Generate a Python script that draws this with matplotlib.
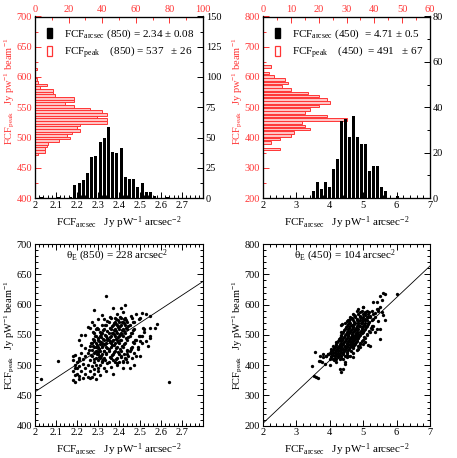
import matplotlib
matplotlib.use("Agg")
import matplotlib.pyplot as plt
import matplotlib.ticker as ticker
from matplotlib.patches import Patch
import numpy as np

plt.rcParams['font.family'] = ['Liberation Serif', 'DejaVu Serif']
plt.rcParams['mathtext.fontset'] = 'custom'
plt.rcParams['mathtext.rm'] = 'Liberation Serif'
plt.rcParams['mathtext.it'] = 'Liberation Serif:italic'
plt.rcParams['mathtext.bf'] = 'Liberation Serif:bold'

RED = '#ff3535'
PINK = '#ffc4c4'

# ---- 850 histograms ----
arcsec850_start, arcsec850_step = 2.03, 0.02
arcsec850_counts = [1, 0, 0, 0, 1, 0, 0, 1, 11, 12, 15, 21, 34, 35, 46, 50, 59, 38,
                    37, 41, 17, 16, 16, 9, 12, 5, 5, 2, 0, 0, 1]
peak850_start, peak850_step = 472.5, 4.4
peak850_counts = [2, 6, 6, 7, 8, 14, 21, 19, 22, 27, 25, 27, 43, 43, 37, 43, 40,
                  33, 23, 18, 23, 23, 12, 11, 11, 3, 7, 2, 1, 0, 0, 0, 1]

# ---- 450 histograms ----
arcsec450_start, arcsec450_step = 3.5, 0.12
arcsec450_counts = [3, 7, 4, 7, 5, 13, 17, 34, 35, 27, 36, 27, 24, 24, 12, 14, 14,
                    5, 3, 0, 0, 1]
peak450_start, peak450_step = 362.0, 10.92
peak450_counts = [6, 0, 3, 6, 10, 11, 17, 15, 14, 30, 23, 15, 17, 20, 24, 23, 20,
                  16, 10, 7, 9, 8, 4, 2, 0, 3]

# fitted beam areas (slope of FCF_peak vs FCF_arcsec)
theta850 = 228
theta450 = 104

# ---- scatter 850 (FCF_arcsec, FCF_peak) ----
scatter850 = [
    # outliers and edge of the cloud
    (2.03, 477), (2.11, 507), (2.34, 614), (2.28, 592), (2.64, 473), (2.43, 600),
    (2.37, 595), (2.39, 584), (2.41, 594), (2.42, 588), (2.48, 585), (2.51, 587),
    (2.53, 585), (2.55, 582), (2.58, 568), (2.57, 561), (2.55, 561), (2.55, 549),
    (2.55, 545), (2.54, 531), (2.49, 526), (2.48, 516), (2.51, 536), (2.40, 505),
    (2.42, 496), (2.41, 514), (2.44, 525), (2.18, 516), (2.18, 509), (2.21, 509),
    (2.19, 500), (2.20, 495), (2.19, 483), (2.21, 478), (2.19, 517), (2.22, 550),
    (2.21, 541), (2.22, 533), (2.24, 550), (2.26, 561), (2.28, 566), (2.32, 566),
    (2.33, 577), (2.37, 486), (2.34, 491), (2.25, 563),
    (2.18, 476), (2.19, 472), (2.20, 486), (2.21, 482), (2.23, 479), (2.24, 486),
    (2.25, 480), (2.26, 479), (2.27, 481), (2.28, 486), (2.29, 478), (2.30, 490),
    (2.31, 484), (2.33, 496), (2.36, 497), (2.39, 501),
    # lower left part
    (2.18, 490), (2.19, 495), (2.20, 505), (2.21, 498), (2.21, 512), (2.22, 490),
    (2.22, 520), (2.23, 502), (2.23, 510), (2.24, 495), (2.24, 515), (2.24, 528),
    (2.25, 500), (2.25, 520), (2.26, 490), (2.26, 508), (2.26, 532), (2.27, 498),
    (2.27, 515), (2.27, 525), (2.28, 493), (2.28, 505), (2.28, 520), (2.28, 540),
    (2.29, 500), (2.29, 512), (2.29, 530), (2.30, 495), (2.30, 508), (2.30, 522),
    (2.30, 545), (2.31, 500), (2.31, 515), (2.31, 535), (2.31, 555),
    # core
    (2.32, 505), (2.35, 505), (2.38, 505), (2.42, 505),
    (2.31, 512), (2.33, 512), (2.36, 512), (2.39, 512), (2.43, 512),
    (2.30, 518), (2.32, 518), (2.34, 518), (2.37, 518), (2.40, 518), (2.44, 518),
    (2.29, 524), (2.31, 524), (2.33, 524), (2.35, 524), (2.38, 524), (2.41, 524),
    (2.45, 524),
    (2.28, 530), (2.30, 530), (2.32, 530), (2.34, 530), (2.36, 530), (2.39, 530),
    (2.42, 530), (2.46, 530),
    (2.27, 536), (2.29, 536), (2.32, 536), (2.34, 536), (2.36, 536), (2.38, 536),
    (2.40, 536), (2.43, 536), (2.47, 536),
    (2.28, 542), (2.30, 542), (2.33, 542), (2.35, 542), (2.37, 542), (2.39, 542),
    (2.41, 542), (2.44, 542), (2.48, 542),
    (2.29, 548), (2.31, 548), (2.34, 548), (2.36, 548), (2.38, 548), (2.40, 548),
    (2.42, 548), (2.45, 548), (2.50, 548),
    (2.28, 554), (2.32, 554), (2.35, 554), (2.37, 554), (2.39, 554), (2.41, 554),
    (2.43, 554), (2.46, 554),
    (2.30, 560), (2.33, 560), (2.36, 560), (2.38, 560), (2.40, 560), (2.42, 560),
    (2.44, 560), (2.47, 560), (2.52, 560),
    (2.34, 566), (2.37, 566), (2.39, 566), (2.41, 566), (2.43, 566), (2.45, 566),
    (2.35, 572), (2.38, 572), (2.40, 572), (2.42, 572), (2.44, 572), (2.47, 572),
    (2.36, 578), (2.38, 578), (2.41, 578), (2.43, 578), (2.46, 578), (2.50, 578),
    (2.32, 507), (2.345, 503), (2.37, 508), (2.39, 504), (2.42, 507), (2.335, 509),
    (2.305, 513), (2.325, 510), (2.355, 514), (2.385, 511), (2.41, 515), (2.435, 510),
    (2.28, 511),
    (2.295, 519), (2.315, 516), (2.34, 520), (2.365, 517), (2.395, 521), (2.425, 518),
    (2.445, 516), (2.265, 517),
    (2.285, 522), (2.305, 526), (2.33, 523), (2.35, 527), (2.375, 522), (2.405, 526),
    (2.44, 523), (2.455, 527), (2.255, 525),
    (2.275, 531), (2.30, 528), (2.32, 532), (2.345, 529), (2.365, 533), (2.385, 528),
    (2.415, 532), (2.455, 529), (2.33, 535),
    (2.265, 537), (2.295, 534), (2.315, 538), (2.335, 535), (2.355, 539), (2.375, 534),
    (2.395, 538), (2.425, 535), (2.465, 538), (2.345, 541),
    (2.275, 543), (2.305, 540), (2.325, 544), (2.345, 545), (2.365, 540), (2.385, 544),
    (2.405, 541), (2.435, 545), (2.475, 541),
    (2.285, 549), (2.315, 546), (2.335, 550), (2.355, 547), (2.375, 551), (2.395, 546),
    (2.415, 550), (2.445, 547), (2.495, 549),
    (2.275, 555), (2.315, 552), (2.345, 556), (2.365, 553), (2.385, 557), (2.405, 552),
    (2.425, 556), (2.455, 553),
    (2.295, 561), (2.325, 558), (2.355, 562), (2.375, 559), (2.395, 563), (2.415, 558),
    (2.435, 562), (2.465, 559), (2.515, 561),
    (2.335, 567), (2.365, 564), (2.385, 568), (2.405, 565), (2.425, 569), (2.445, 564),
    (2.345, 573), (2.375, 570), (2.395, 574), (2.415, 571), (2.435, 575), (2.465, 571),
    (2.355, 579), (2.385, 576), (2.405, 580), (2.425, 577), (2.455, 581), (2.495, 577),
    # right side of the cloud
    (2.44, 505), (2.46, 512), (2.47, 520), (2.49, 530), (2.50, 540), (2.51, 548),
    (2.52, 555), (2.53, 540), (2.50, 515), (2.47, 500), (2.45, 495),
    (2.27, 572), (2.30, 576), (2.29, 560), (2.32, 583),
]

# ---- scatter 450 ----
scatter450 = [
    # outliers and edge of the cloud
    (3.48, 397), (3.53, 364), (3.60, 360), (3.65, 358), (3.56, 443), (3.71, 432),
    (3.76, 410), (3.68, 415), (3.81, 437), (3.89, 432), (3.94, 437), (3.86, 405),
    (4.00, 402), (4.03, 454), (4.10, 465), (4.20, 476), (4.30, 487), (4.35, 509),
    (4.37, 536), (4.25, 437), (4.20, 410), (4.30, 388), (4.35, 377), (4.40, 389),
    (4.45, 411), (3.70, 413), (3.80, 428), (4.05, 439), (4.85, 585), (5.00, 591),
    (5.05, 575), (5.40, 585), (5.50, 591), (5.55, 575), (4.50, 547), (4.75, 564),
    (5.45, 547), (5.25, 531), (5.40, 520), (5.35, 509), (5.50, 487), (5.05, 476),
    (5.15, 467), (5.20, 465), (4.85, 454), (4.90, 470), (4.70, 427), (4.55, 432),
    (4.50, 427), (4.45, 405), (5.00, 592), (5.50, 630), (5.58, 639), (5.65, 636),
    (6.00, 636), (5.30, 608), (5.40, 608), (5.55, 614), (5.45, 586), (5.60, 565),
    (5.65, 548), (5.50, 521), (4.60, 554), (4.35, 534),
    # core
    (4.00, 420), (4.10, 420), (4.20, 420), (4.30, 420), (4.40, 420),
    (3.90, 430), (4.05, 430), (4.15, 430), (4.25, 430), (4.35, 430), (4.45, 430),
    (4.60, 430),
    (4.00, 440), (4.10, 440), (4.20, 440), (4.30, 440), (4.40, 440), (4.50, 440),
    (4.70, 440),
    (4.10, 450), (4.20, 450), (4.30, 450), (4.35, 450), (4.45, 450), (4.55, 450),
    (4.80, 450),
    (4.15, 460), (4.25, 460), (4.35, 460), (4.45, 460), (4.50, 460), (4.60, 460),
    (4.70, 460), (4.90, 460),
    (4.20, 470), (4.30, 470), (4.40, 470), (4.50, 470), (4.60, 470), (4.65, 470),
    (4.75, 470), (5.00, 470),
    (4.25, 480), (4.35, 480), (4.45, 480), (4.55, 480), (4.65, 480), (4.70, 480),
    (4.80, 480), (4.95, 480),
    (4.30, 490), (4.40, 490), (4.50, 490), (4.60, 490), (4.70, 490), (4.75, 490),
    (4.85, 490), (5.05, 490),
    (4.35, 500), (4.45, 500), (4.55, 500), (4.65, 500), (4.75, 500), (4.80, 500),
    (4.90, 500), (5.10, 500),
    (4.40, 510), (4.50, 510), (4.60, 510), (4.70, 510), (4.80, 510), (4.90, 510),
    (5.00, 510), (5.20, 510),
    (4.45, 520), (4.55, 520), (4.65, 520), (4.75, 520), (4.85, 520), (4.95, 520),
    (5.05, 520), (5.25, 520),
    (4.50, 530), (4.60, 530), (4.70, 530), (4.80, 530), (4.90, 530), (5.00, 530),
    (5.10, 530), (5.30, 530),
    (4.45, 540), (4.60, 540), (4.75, 540), (4.85, 540), (4.95, 540), (5.05, 540),
    (5.15, 540),
    (4.55, 550), (4.70, 550), (4.80, 550), (4.90, 550), (5.00, 550), (5.10, 550),
    (5.25, 550),
    (4.60, 560), (4.75, 560), (4.90, 560), (5.00, 560), (5.10, 560), (5.20, 560),
    (5.35, 560),
    (4.70, 570), (4.85, 570), (5.00, 570), (5.15, 570), (5.30, 570),
    (4.80, 580), (4.95, 580), (5.10, 580), (5.25, 580), (5.45, 580),
    (4.05, 426), (4.15, 423), (4.25, 427), (4.35, 424), (4.12, 418),
    (3.95, 436), (4.10, 433), (4.20, 437), (4.30, 434), (4.40, 438), (4.52, 435),
    (4.05, 446), (4.15, 443), (4.25, 447), (4.33, 444), (4.42, 448), (4.50, 443),
    (4.62, 446),
    (4.12, 456), (4.22, 453), (4.32, 457), (4.40, 454), (4.48, 458), (4.58, 453),
    (4.68, 456),
    (4.18, 466), (4.28, 463), (4.38, 467), (4.47, 464), (4.55, 468), (4.63, 463),
    (4.72, 467), (4.85, 464),
    (4.22, 476), (4.33, 473), (4.42, 477), (4.52, 474), (4.60, 478), (4.68, 473),
    (4.78, 477), (4.90, 474),
    (4.28, 486), (4.38, 483), (4.48, 487), (4.57, 484), (4.66, 488), (4.73, 483),
    (4.82, 487), (4.98, 484),
    (4.33, 496), (4.43, 493), (4.53, 497), (4.62, 494), (4.71, 498), (4.78, 493),
    (4.88, 497), (5.02, 494),
    (4.38, 506), (4.48, 503), (4.58, 507), (4.67, 504), (4.77, 508), (4.85, 503),
    (4.95, 507), (5.12, 504),
    (4.43, 516), (4.53, 513), (4.62, 517), (4.72, 514), (4.82, 518), (4.92, 513),
    (5.02, 517), (5.18, 514),
    (4.48, 526), (4.58, 523), (4.68, 527), (4.78, 524), (4.88, 528), (4.97, 523),
    (5.08, 527), (5.22, 524),
    (4.53, 536), (4.65, 533), (4.73, 537), (4.83, 534), (4.93, 538), (5.03, 533),
    (5.13, 537),
    (4.58, 546), (4.72, 543), (4.85, 547), (4.95, 544), (5.05, 548), (5.18, 543),
    (4.65, 556), (4.82, 553), (4.95, 557), (5.05, 554), (5.15, 558), (5.30, 553),
    (4.72, 566), (4.90, 563), (5.05, 567), (5.20, 564),
    (4.90, 576), (5.05, 573), (5.18, 577), (5.35, 574),
]


def gFormat(hide_above=None):
    def f(v, pos):
        if hide_above is not None and v > hide_above:
            return ''
        return '%g' % round(v, 6)
    return ticker.FuncFormatter(f)


def setTicks(axis, major, minor):
    axis.set_major_locator(ticker.MultipleLocator(major))
    axis.set_minor_locator(ticker.MultipleLocator(minor))


def commonTickSettings(ax):
    ax.tick_params(which='both', direction='in', labelsize=7.5, width=0.7, pad=2)
    ax.tick_params(which='major', length=4)
    ax.tick_params(which='minor', length=2)
    for s in ax.spines.values():
        s.set_linewidth(0.8)


def histPanel(fig, rect, xlim, ylim, toplim, rightlim, ticks, arcsec, peak, labels, hide_x):
    a_start, a_step, a_counts, a_width = arcsec
    p_start, p_step, p_counts, p_height = peak
    xt, yt, tt, rt = ticks

    ax = fig.add_axes(rect)
    ax.set_xlim(xlim)
    ax.set_ylim(ylim)
    setTicks(ax.xaxis, *xt)
    setTicks(ax.yaxis, *yt)
    ax.xaxis.set_major_formatter(gFormat(hide_x))
    ax.yaxis.set_major_formatter(gFormat())
    commonTickSettings(ax)
    ax.tick_params(axis='y', colors=RED, labelsize=7.5, right=False, which='both')
    ax.tick_params(axis='x', top=False, which='both')
    ax.set_xlabel(r'FCF$_{\mathrm{arcsec}}$   Jy pW$^{-1}$ arcsec$^{-2}$', fontsize=8, labelpad=3)
    ax.set_ylabel(r'FCF$_{\mathrm{peak}}$   Jy pw$^{-1}$ beam$^{-1}$', fontsize=7.5, color=RED)
    ax.yaxis.set_label_coords(-0.106, 0.59)

    # red: FCF_peak distribution, counts on the top axis
    axTop = ax.twiny()
    axTop.set_xlim(toplim)
    p_centers = p_start + p_step * np.arange(len(p_counts))
    axTop.barh(p_centers, p_counts, height=p_height, facecolor=PINK, edgecolor=RED,
               linewidth=0.7)
    setTicks(axTop.xaxis, *tt)
    axTop.xaxis.set_major_formatter(gFormat())
    commonTickSettings(axTop)
    axTop.tick_params(axis='x', colors=RED, labelsize=7.5, bottom=False, which='both')
    axTop.tick_params(axis='y', left=False, right=False, which='both')

    # black: FCF_arcsec distribution, counts on the right axis
    axRight = ax.twinx()
    axRight.set_ylim(rightlim)
    a_centers = a_start + a_step * np.arange(len(a_counts))
    axRight.bar(a_centers, a_counts, width=a_width, color='black', linewidth=0)
    setTicks(axRight.yaxis, *rt)
    axRight.yaxis.set_major_formatter(gFormat())
    commonTickSettings(axRight)
    axRight.tick_params(axis='y', left=False, which='both')
    axRight.tick_params(axis='x', top=False, bottom=False, which='both')

    handles = [Patch(facecolor='black', edgecolor='black'),
               Patch(facecolor='white', edgecolor=RED, linewidth=0.9)]
    axRight.legend(handles, labels, loc='upper left', bbox_to_anchor=(0.03, 0.975),
                   frameon=False, fontsize=8, handlelength=0.45, handleheight=1.0,
                   handletextpad=1.1, labelspacing=0.25, borderaxespad=0.2)
    return ax


def scatterPanel(fig, rect, xlim, ylim, ticks, points, theta, label, hide_x):
    xt, yt = ticks
    ax = fig.add_axes(rect)
    xs = [p[0] for p in points]
    ys = [p[1] for p in points]
    ax.plot(xs, ys, 'o', color='black', markersize=2.4, markeredgewidth=0)
    lx = np.array(xlim)
    ax.plot(lx, theta * lx, color='black', linewidth=0.6)
    ax.set_xlim(xlim)
    ax.set_ylim(ylim)
    setTicks(ax.xaxis, *xt)
    setTicks(ax.yaxis, *yt)
    ax.xaxis.set_major_formatter(gFormat(hide_x))
    ax.yaxis.set_major_formatter(gFormat())
    commonTickSettings(ax)
    ax.tick_params(which='both', top=True, right=True)
    ax.set_xlabel(r'FCF$_{\mathrm{arcsec}}$   Jy pW$^{-1}$ arcsec$^{-2}$', fontsize=8, labelpad=3)
    ax.set_ylabel(r'FCF$_{\mathrm{peak}}$   Jy pW$^{-1}$ beam$^{-1}$', fontsize=7.5)
    ax.yaxis.set_label_coords(-0.106, 0.5)
    ax.text(0.49, 0.935, label, transform=ax.transAxes, ha='center', va='center', fontsize=8)
    return ax


fig = plt.figure(figsize=(4.57, 4.58), dpi=100)

L1, W = 35 / 457, 168 / 457
L2 = 263 / 457
B1, H = 1 - 198 / 458, 181.5 / 458
B2 = 1 - 425.7 / 458

histPanel(fig, (L1, B1, W, H), (2, 2.8), (400, 700), (0, 100), (0, 150),
          ((0.1, 0.02), (50, 25), (20, 10), (25, 12.5)),
          (arcsec850_start, arcsec850_step, arcsec850_counts, 0.014),
          (peak850_start, peak850_step, peak850_counts, peak850_step),
          [r'FCF$_{\mathrm{arcsec}}$ (850) = 2.34 $\pm$ 0.08',
           r'FCF$_{\mathrm{peak}}$    (850) = 537   $\pm$ 26'], 2.75)

histPanel(fig, (L2, B1, W - 1 / 457, H), (2, 7), (200, 800), (0, 60), (0, 80),
          ((1, 0.2), (100, 50), (10, 5), (20, 10)),
          (arcsec450_start, arcsec450_step, arcsec450_counts, 0.09),
          (peak450_start, peak450_step, peak450_counts, 8.5),
          [r'FCF$_{\mathrm{arcsec}}$ (450)  = 4.71 $\pm$ 0.5',
           r'FCF$_{\mathrm{peak}}$    (450)  = 491   $\pm$ 67'], None)

scatterPanel(fig, (L1, B2, W, H), (2, 2.8), (400, 700), ((0.1, 0.02), (50, 10)),
             scatter850, theta850, r'θ$_{\mathrm{E}}$ (850) = 228 arcsec$^{2}$', 2.75)

scatterPanel(fig, (L2, B2, W - 1 / 457, H), (2, 7), (200, 800), ((1, 0.2), (100, 20)),
             scatter450, theta450, r'θ$_{\mathrm{E}}$ (450) = 104 arcsec$^{2}$', None)

fig.savefig('out.png', dpi=100)
